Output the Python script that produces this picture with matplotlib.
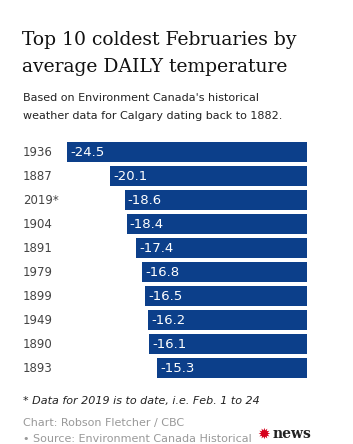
import matplotlib.pyplot as plt
from matplotlib.transforms import blended_transform_factory, offset_copy

years = ["1936", "1887", "2019*", "1904", "1891", "1979", "1899", "1949", "1890", "1893"]
temps = [-24.5, -20.1, -18.6, -18.4, -17.4, -16.8, -16.5, -16.2, -16.1, -15.3]

W, H = 353, 444
fig = plt.figure(figsize=(W / 100, H / 100), dpi=100)
fig.patch.set_facecolor("white")

def fy(y):
    return 1 - y / H

def fx(x):
    return x / W

# title and subtitle
fig.text(fx(22), fy(40), "Top 10 coldest Februaries by", fontsize=13.5,
         family="DejaVu Serif", color="#111111", va="center")
fig.text(fx(22), fy(67), "average DAILY temperature", fontsize=13.5,
         family="DejaVu Serif", color="#111111", va="center")
fig.text(fx(23), fy(98), "Based on Environment Canada's historical", fontsize=8,
         color="#222222", va="center")
fig.text(fx(23), fy(116), "weather data for Calgary dating back to 1882.", fontsize=8,
         color="#222222", va="center")

# bars
ax = fig.add_axes([fx(62), fy(380), fx(245), 240 / H])
pos = list(range(len(years)))
ax.barh(pos, temps, height=0.83, color="#0c3f8a")
ax.set_xlim(-25, 0)
ax.set_ylim(len(years) - 0.5, -0.5)
ax.axis("off")

for i, v in enumerate(temps):
    t = offset_copy(ax.transData, fig=fig, x=3, y=0, units="dots")
    ax.text(v, i, f"{v}", transform=t, color="white", fontsize=9.5,
            va="center", ha="left")

lab_tr = blended_transform_factory(fig.transFigure, ax.transData)
for i, y in enumerate(years):
    ax.text(fx(23), i, y, transform=lab_tr, color="#444444", fontsize=8.5,
            va="center", ha="left")

# footer
fig.text(fx(23), fy(401), "* Data for 2019 is to date, i.e. Feb. 1 to 24", fontsize=8,
         style="italic", color="#222222", va="center")
fig.text(fx(23), fy(423), "Chart: Robson Fletcher / CBC", fontsize=8,
         color="#999999", va="center")
fig.text(fx(23), fy(439), "\u2022 Source: Environment Canada Historical", fontsize=8,
         color="#999999", va="center")
fig.text(fx(264), fy(434), "\u2739", fontsize=11, color="#d6001c",
         family="DejaVu Sans", va="center", ha="center")
fig.text(fx(273), fy(434), "news", fontsize=10, fontweight="bold",
         family="DejaVu Serif", color="#222222", va="center")

fig.savefig("out.png", dpi=100)
